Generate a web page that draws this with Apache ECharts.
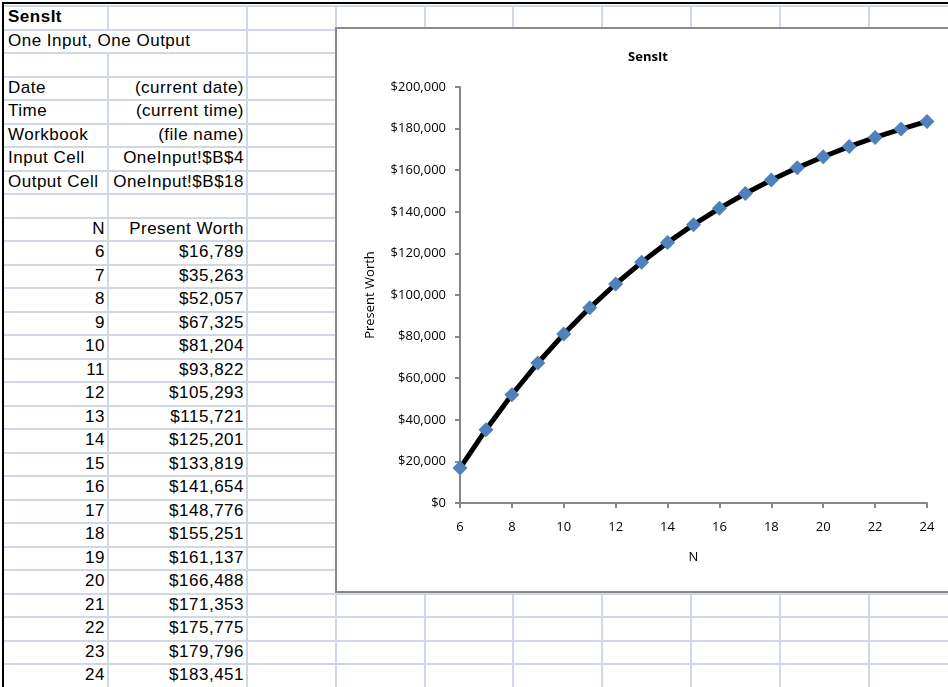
<!DOCTYPE html>
<html>
<head>
<meta charset="utf-8">
<script src="https://cdn.jsdelivr.net/npm/echarts@6.0.0/dist/echarts.min.js"></script>
<style>
html,body{margin:0;padding:0;width:948px;height:687px;overflow:hidden;background:#fff;}
#sheet{position:absolute;left:0;top:0;width:948px;height:687px;}
.h{position:absolute;height:2px;background:#d0d8e6;}
.v{position:absolute;width:2px;background:#d0d8e6;}
.blk{position:absolute;background:#000;}
.t{position:absolute;font-family:"Liberation Sans",Arial,sans-serif;font-size:17px;letter-spacing:0.5px;color:#000;white-space:nowrap;line-height:20px;}
#chart{position:absolute;left:335px;top:27px;width:622px;height:562px;border:2px solid #8a8a8a;background:#fff;}
</style>
</head>
<body>
<div id="sheet"></div>
<div id="chart"></div>
<script>
// ---- data ----
const sheetTitle = "SensIt";
const sheetSubtitle = "One Input, One Output";
const infoLabels = ["Date", "Time", "Workbook", "Input Cell", "Output Cell"];
const infoValues = ["(current date)", "(current time)", "(file name)", "OneInput!$B$4", "OneInput!$B$18"];
const headerN = "N";
const headerPW = "Present Worth";
const nValues = [6, 7, 8, 9, 10, 11, 12, 13, 14, 15, 16, 17, 18, 19, 20, 21, 22, 23, 24];
const presentWorth = [16789, 35263, 52057, 67325, 81204, 93822, 105293, 115721, 125201, 133819,
  141654, 148776, 155251, 161137, 166488, 171353, 175775, 179796, 183451];
const chartTitle = "SensIt";
const xAxisTitle = "N";
const yAxisTitle = "Present Worth";

function money(v) { return "$" + Math.round(v).toLocaleString("en-US"); }

// ---- spreadsheet ----
const sheet = document.getElementById("sheet");
const rowTop0 = 5, rowH = 23.5, nRows = 29;
const colX = [107, 246, 335, 424, 512, 601, 690, 779, 868];
function add(cls, style, text, bold) {
  const d = document.createElement("div");
  d.className = cls;
  Object.assign(d.style, style);
  if (text !== undefined) d.textContent = text;
  if (bold) d.style.fontWeight = "bold";
  sheet.appendChild(d);
  return d;
}
for (let r = 0; r <= nRows; r++) {
  const y = Math.round(rowTop0 + r * rowH);
  add("h", {left: "3px", top: y + "px", width: "945px"});
}
for (let r = 0; r < nRows; r++) {
  const y0 = Math.round(rowTop0 + r * rowH);
  const y1 = Math.round(rowTop0 + (r + 1) * rowH);
  colX.forEach((x, ci) => {
    if (r === 1 && ci === 0) return;
    add("v", {left: x + "px", top: y0 + "px", height: (y1 - y0 + 2) + "px"});
  });
}
add("blk", {left: "2px", top: "2px", width: "946px", height: "2px"});
add("blk", {left: "2px", top: "2px", width: "2px", height: "685px"});

function rowTextTop(r) { return Math.round(rowTop0 + r * rowH) + 2 + "px"; }
function leftText(r, x, txt, bold) { add("t", {left: x + "px", top: rowTextTop(r)}, txt, bold); }
function rightText(r, xr, txt) { add("t", {right: (948 - xr) + "px", top: rowTextTop(r)}, txt); }

leftText(0, 8, sheetTitle, true);
leftText(1, 8, sheetSubtitle);
infoLabels.forEach((lab, i) => {
  leftText(3 + i, 8, lab);
  rightText(3 + i, 244, infoValues[i]);
});
rightText(9, 105, headerN);
rightText(9, 244, headerPW);
nValues.forEach((n, i) => {
  rightText(10 + i, 105, String(n));
  rightText(10 + i, 244, money(presentWorth[i]));
});

// ---- chart ----
const chart = echarts.init(document.getElementById("chart"), null, {renderer: "canvas"});
const axisColor = "#868686";
const fontF = "'Open Sans', sans-serif";
chart.setOption({
  animation: false,
  backgroundColor: "#fff",
  title: {
    text: chartTitle, left: "center", top: 17,
    textStyle: {fontFamily: fontF, fontWeight: "bold", fontSize: 13, color: "#000"}
  },
  grid: {left: 123, top: 58, width: 467, height: 416},
  xAxis: {
    type: "value", min: 6, max: 24, interval: 2,
    name: xAxisTitle, nameLocation: "middle", nameGap: 48,
    nameTextStyle: {fontFamily: fontF, fontSize: 13, color: "#000"},
    axisLine: {show: true, lineStyle: {color: axisColor, width: 2}},
    axisTick: {show: true, length: 5, lineStyle: {color: axisColor, width: 2}},
    axisLabel: {margin: 18, fontFamily: fontF, fontSize: 13, color: "#000"},
    splitLine: {show: false}
  },
  yAxis: {
    type: "value", min: 0, max: 200000, interval: 20000,
    name: yAxisTitle, nameLocation: "middle", nameGap: 83,
    nameTextStyle: {fontFamily: fontF, fontSize: 13, color: "#000"},
    axisLine: {show: true, lineStyle: {color: axisColor, width: 2}},
    axisTick: {show: true, length: 5, lineStyle: {color: axisColor, width: 2}},
    axisLabel: {margin: 14, fontFamily: fontF, fontSize: 13, color: "#000", formatter: v => money(v)},
    splitLine: {show: false}
  },
  series: [{
    type: "line",
    data: nValues.map((n, i) => [n, presentWorth[i]]),
    lineStyle: {color: "#000", width: 5},
    symbol: "diamond", symbolSize: 15,
    itemStyle: {color: "#4f81bd"},
    clip: false
  }]
});
</script>
</body>
</html>
